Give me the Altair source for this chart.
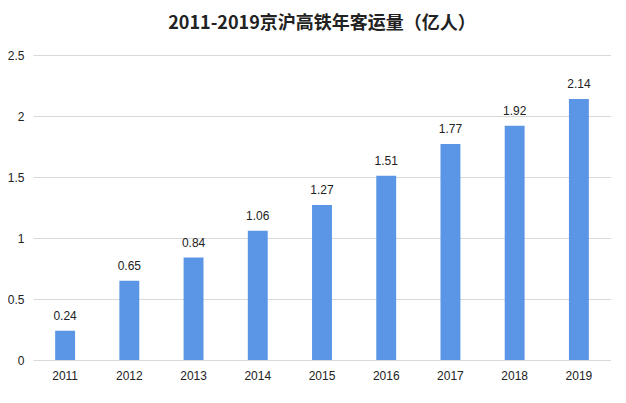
import altair as alt
import pandas as pd

years = ["2011", "2012", "2013", "2014", "2015", "2016", "2017", "2018", "2019"]
values = [0.24, 0.65, 0.84, 1.06, 1.27, 1.51, 1.77, 1.92, 2.14]
y_ticks = [0, 0.5, 1, 1.5, 2, 2.5]

df = pd.DataFrame({"year": years, "value": values})

FONT = "Liberation Sans"

base = alt.Chart(df).encode(
    x=alt.X("year:N", sort=years,
            scale=alt.Scale(paddingInner=0.69, paddingOuter=0.345),
            axis=alt.Axis(title=None, labelAngle=0, domain=False, ticks=False,
                          labelPadding=10, labelFontSize=12, labelColor="#222",
                          labelFont=FONT)),
    y=alt.Y("value:Q", scale=alt.Scale(domain=[0, 2.5], nice=False),
            axis=alt.Axis(title=None, values=y_ticks, format="~g", domain=False,
                          ticks=False, labelPadding=9, labelFontSize=12,
                          labelColor="#222", labelFont=FONT,
                          gridColor="#d9d9d9", gridWidth=1)),
)

bars = base.mark_bar(color="#5B96E6")
labels = base.mark_text(baseline="bottom", dy=-8, fontSize=12, color="#222",
                        font=FONT).encode(text=alt.Text("value:Q", format=".2f"))

chart = (bars + labels).properties(
    width=578, height=305,
    title=alt.Title("2011-2019京沪高铁年客运量（亿人）", fontSize=18,
                    font="Noto Sans CJK SC", fontWeight="bold", color="#222",
                    offset=16),
    autosize=alt.AutoSizeParams(type="none"),
    padding={"left": 25, "top": 47, "right": 0, "bottom": 30},
).configure_view(stroke=None)

chart.save("out.html", embed_options={"renderer": "svg", "actions": False})
